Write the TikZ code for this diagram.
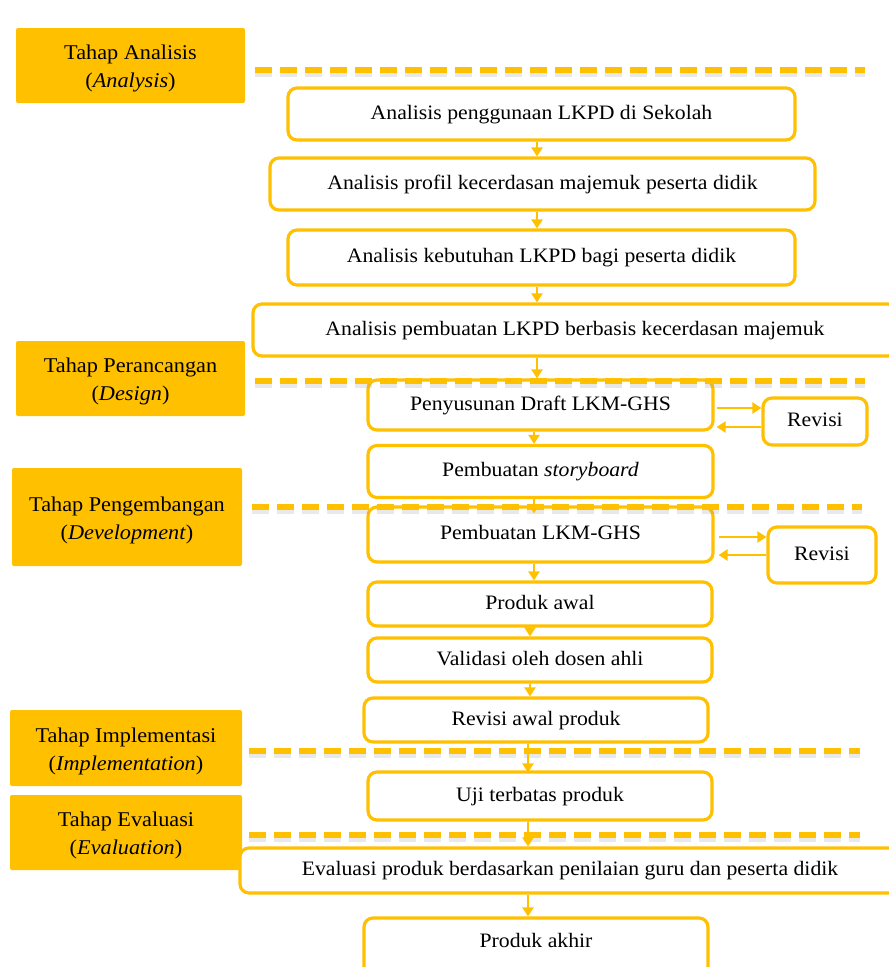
\documentclass[tikz,border=0pt]{standalone}
\usepackage{fontspec}
\setmainfont{Liberation Serif}[FakeStretch=1.06]
\usetikzlibrary{arrows.meta}
\definecolor{org}{HTML}{FFC000}
\begin{document}
\begin{tikzpicture}[x=1pt,y=-1pt,
  box/.style={draw=org, line width=3.2pt, rounded corners=9pt, fill=white, inner sep=0pt,
              text height=15pt, text depth=5pt,
              font=\fontsize{20.5}{24}\selectfont, text=black},
  stage/.style={fill=org, rounded corners=2pt, inner sep=0pt},
  stagetxt/.style={inner sep=0pt, align=center, font=\fontsize{21}{28}\selectfont, text=black},
  arr/.style={draw=org, line width=2.8pt, -{Triangle[width=11pt,length=9pt]}},
  sep/.style={draw=org, line width=6.5pt, dash pattern=on 17pt off 8pt},
  sepshadow/.style={draw=black!40, opacity=0.22, line width=6pt, dash pattern=on 17pt off 8pt}
]
\useasboundingbox (0,0) rectangle (889,967);

% stage labels
\node[stage, minimum width=229pt, minimum height=75pt] (s1) at (130.5,65.5) {};
\node[stagetxt] (s1t) at ([yshift=-3pt]s1.center) {Tahap Analisis\\(\textit{Analysis})};
\node[stage, minimum width=229pt, minimum height=75pt] (s2) at (130.5,378.5) {};
\node[stagetxt] (s2t) at ([yshift=-3pt]s2.center) {Tahap Perancangan\\(\textit{Design})};
\node[stage, minimum width=230pt, minimum height=98pt] (s3) at (127,517) {};
\node[stagetxt] (s3t) at ([yshift=-3pt]s3.center) {Tahap Pengembangan\\(\textit{Development})};
\node[stage, minimum width=232pt, minimum height=76pt] (s4) at (126,748) {};
\node[stagetxt] (s4t) at ([yshift=-3pt]s4.center) {Tahap Implementasi\\(\textit{Implementation})};
\node[stage, minimum width=232pt, minimum height=75pt] (s5) at (126,832.5) {};
\node[stagetxt] (s5t) at ([yshift=-3pt]s5.center) {Tahap Evaluasi\\(\textit{Evaluation})};

% flow boxes
\node[box, minimum width=507pt, minimum height=52pt] (b1) at (541.5,114) {Analisis penggunaan LKPD di Sekolah};
\node[box, minimum width=545pt, minimum height=52pt] (b2) at (542.5,184) {Analisis profil kecerdasan majemuk peserta didik};
\node[box, minimum width=507pt, minimum height=55pt] (b3) at (541.5,257.5) {Analisis kebutuhan LKPD bagi peserta didik};
\node[box, minimum width=644pt, minimum height=52pt] (b4) at (575,330) {Analisis pembuatan LKPD berbasis kecerdasan majemuk};
\node[box, minimum width=345pt, minimum height=50pt] (b5) at (540.5,405) {Penyusunan Draft LKM-GHS};
\node[box, minimum width=104pt, minimum height=47pt] (r1) at (815,421.5) {Revisi};
\node[box, minimum width=345pt, minimum height=52pt] (b7) at (540.5,471.5) {Pembuatan \textit{storyboard}};
\node[box, minimum width=345pt, minimum height=55pt] (b8) at (540.5,534.5) {Pembuatan LKM-GHS};
\node[box, minimum width=108pt, minimum height=56pt] (r2) at (822,555) {Revisi};
\node[box, minimum width=344pt, minimum height=44pt] (b10) at (540,604) {Produk awal};
\node[box, minimum width=344pt, minimum height=44pt] (b11) at (540,660) {Validasi oleh dosen ahli};
\node[box, minimum width=344pt, minimum height=44pt] (b12) at (536,720) {Revisi awal produk};
\node[box, minimum width=344pt, minimum height=48pt] (b13) at (540,796) {Uji terbatas produk};
\node[box, minimum width=660pt, minimum height=45pt] (b14) at (570,870.5) {Evaluasi produk berdasarkan penilaian guru dan peserta didik};
\node[box, minimum width=344pt, minimum height=58pt] (b15) at (536,947) {};
\node[font=\fontsize{20.5}{24}\selectfont, text height=15pt, text depth=5pt] (t15) at (536,942) {Produk akhir};

% separator lines
\coordinate (d1a) at (255,70);  \coordinate (d1b) at (865,70);
\coordinate (d2a) at (255,381); \coordinate (d2b) at (865,381);
\coordinate (d3a) at (252,507); \coordinate (d3b) at (862,507);
\coordinate (d4a) at (249,751); \coordinate (d4b) at (860,751);
\coordinate (d5a) at (249,835); \coordinate (d5b) at (860,835);
\foreach \a/\b in {d1a/d1b,d2a/d2b,d3a/d3b,d4a/d4b,d5a/d5b}{
  \draw[sepshadow] ([yshift=-3.5pt]\a) -- ([yshift=-3.5pt]\b);
  \draw[sep] (\a) -- (\b);
}

% vertical connectors
\coordinate (xa) at (537,0);
\coordinate (xb) at (534,0);
\coordinate (xc) at (530,0);
\coordinate (xd) at (528,0);
\draw[arr] (b1.south -| xa) -- (b2.north -| xa);
\draw[arr] (b2.south -| xa) -- (b3.north -| xa);
\draw[arr] (b3.south -| xa) -- (b4.north -| xa);
\draw[arr] (b4.south -| xa) -- (b5.north -| xa);
\draw[arr] (b5.south -| xb) -- (b7.north -| xb);
\draw[arr] (b7.south -| xb) -- ([yshift=-8pt]b8.north -| xb);
\draw[arr] (b8.south -| xb) -- (b10.north -| xb);
\draw[arr] (b10.south -| xc) -- (b11.north -| xc);
\draw[arr] (b11.south -| xc) -- (b12.north -| xc);
\draw[arr] (b12.south -| xd) -- ([yshift=-2pt]b13.north -| xd);
\draw[arr] (b13.south -| xd) -- (b14.north -| xd);
\draw[arr] (b14.south -| xd) -- (b15.north -| xd);

% revision loops
\coordinate (y1) at (0,408);
\coordinate (y2) at (0,427);
\coordinate (y3) at (0,537);
\coordinate (y4) at (0,555);
\draw[arr] ([xshift=2pt]b5.east |- y1) -- (r1.west |- y1);
\draw[arr] (r1.west |- y2) -- ([xshift=2pt]b5.east |- y2);
\draw[arr] ([xshift=4pt]b8.east |- y3) -- (r2.west |- y3);
\draw[arr] (r2.west |- y4) -- ([xshift=4pt]b8.east |- y4);
\end{tikzpicture}
\end{document}
